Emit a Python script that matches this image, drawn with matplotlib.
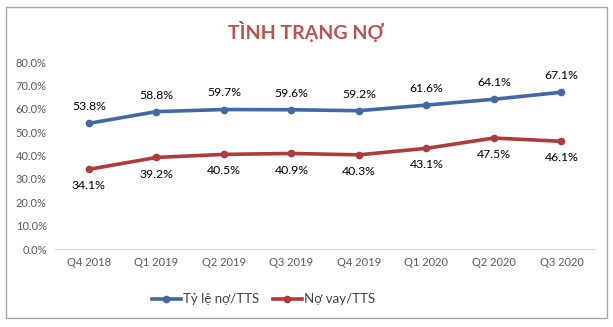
import matplotlib.pyplot as plt
from matplotlib.patches import Rectangle
from matplotlib.ticker import FuncFormatter

plt.rcParams["font.family"] = ["Lato", "DejaVu Sans"]

quarters = ["Q4 2018", "Q1 2019", "Q2 2019", "Q3 2019",
            "Q4 2019", "Q1 2020", "Q2 2020", "Q3 2020"]
debt_ratio = [53.8, 58.8, 59.7, 59.6, 59.2, 61.6, 64.1, 67.1]
loan_ratio = [34.1, 39.2, 40.5, 40.9, 40.3, 43.1, 47.5, 46.1]

blue = "#4169A6"
red = "#B03B3B"
grey = "#595959"

fig = plt.figure(figsize=(6.13, 3.27), dpi=100)
fig.patches.append(Rectangle((0.010, 0.027), 0.980, 0.952, transform=fig.transFigure,
                             fill=False, edgecolor="#A6A6A6", linewidth=1.0))
ax = fig.add_axes([0.090, 0.2385, 0.881, 0.5716])

x = list(range(len(quarters)))
ax.plot(x, debt_ratio, color=blue, linewidth=2.6, marker="o", markersize=4.5,
        label="Tỷ lệ nợ/TTS")
ax.plot(x, loan_ratio, color=red, linewidth=2.6, marker="o", markersize=4.5,
        label="Nợ vay/TTS")

for xi, v in zip(x, debt_ratio):
    ax.annotate(f"{v:.1f}%", (xi, v), xytext=(0, 8), textcoords="offset points",
                ha="center", va="bottom", fontsize=8.8, color="black")
for xi, v in zip(x, loan_ratio):
    ax.annotate(f"{v:.1f}%", (xi, v), xytext=(0, -8), textcoords="offset points",
                ha="center", va="top", fontsize=8.8, color="black")

ax.set_xlim(-0.5, len(quarters) - 0.5)
ax.set_ylim(0, 80)
ax.set_yticks(range(0, 81, 10))
ax.yaxis.set_major_formatter(FuncFormatter(lambda v, _: f"{v:.1f}%"))
ax.set_xticks(x)
ax.set_xticklabels(quarters)
ax.tick_params(axis="both", length=0, labelsize=8, labelcolor=grey, pad=6)
for side in ["top", "right", "left"]:
    ax.spines[side].set_visible(False)
ax.spines["bottom"].set_color("#D9D9D9")

fig.text(0.5, 0.905, "TÌNH TRẠNG NỢ", ha="center", va="center",
         fontsize=14, fontweight="bold", color="#C0504D")

fig.legend(loc="center", bbox_to_anchor=(0.43, 0.085), ncol=2, frameon=False,
           fontsize=9.5, handlelength=2.2, columnspacing=1.0, handletextpad=0.2,
           labelcolor="#404040")

fig.savefig("out.png", dpi=100)
